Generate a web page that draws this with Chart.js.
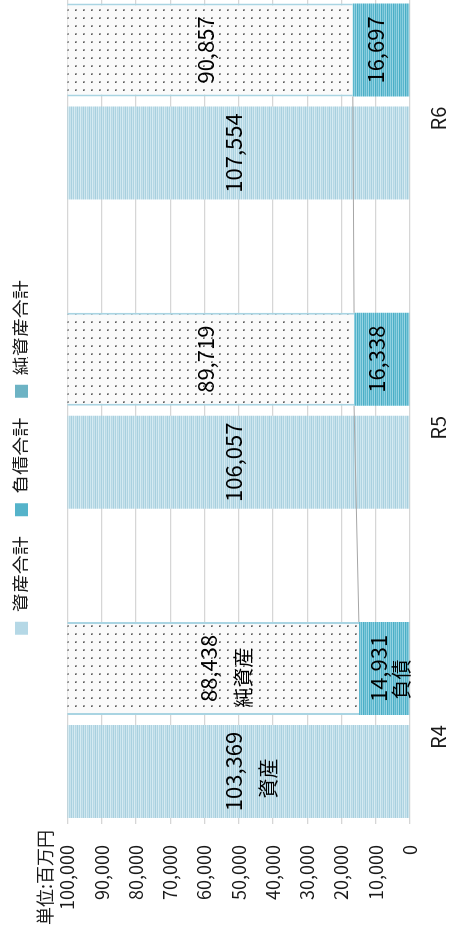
<!DOCTYPE html>
<html lang="ja">
<head>
<meta charset="utf-8">
<title>資産・負債・純資産の推移</title>
<script src="https://cdn.jsdelivr.net/npm/chart.js@4.4.1/dist/chart.umd.min.js"></script>
<style>
  html, body { margin: 0; padding: 0; background: #fff; }
  body { width: 449px; height: 934px; overflow: hidden; position: relative; }
  /* グラフは横長で描いて、左に90度回転させる */
  #wrap {
    position: absolute; left: 0; top: 0;
    width: 944px; height: 449px;
    transform-origin: 0 0;
    transform: translate(0px, 934px) rotate(-90deg);
  }
</style>
</head>
<body>
<div id="wrap"><canvas id="bs-chart" width="944" height="449"></canvas></div>
<script>
// --- データ（単位：百万円） ---
const YEARS = ['R4', 'R5', 'R6'];
const ASSETS = [103369, 106057, 107554];
const LIABILITIES = [14931, 16338, 16697];
const NET_ASSETS = [88438, 89719, 90857];
const SERIES_NAMES = ['資産合計', '負債合計', '純資産合計'];
const NOTE_LABELS = ['資産', '負債', '純資産']; // R4 の棒にだけ付ける説明
const VALUE_MAX = 100000;
const VALUE_STEP = 10000;

const FONT = '"Noto Sans CJK JP", "Noto Sans", sans-serif';
const TEXT_COLOR = '#1a1a1a';
Chart.defaults.font.family = FONT;
Chart.defaults.color = TEXT_COLOR;

const canvas = document.getElementById('bs-chart');
const mainCtx = canvas.getContext('2d');

// --- 塗りパターン ---
function stripePattern(rows) {
    const tile = document.createElement('canvas');
    tile.width = 4;
    tile.height = rows.length;
    const g = tile.getContext('2d');
    rows.forEach((col, i) => { g.fillStyle = col; g.fillRect(0, i, 4, 1); });
    return mainCtx.createPattern(tile, 'repeat');
}

function dotPattern() {
    const tile = document.createElement('canvas');
    tile.width = 8;
    tile.height = 8;
    const g = tile.getContext('2d');
    g.fillStyle = '#fafafa';
    g.fillRect(0, 0, 8, 8);
    g.fillStyle = '#9c9c9c';
    g.fillRect(3, 3, 2, 2);
    g.fillStyle = '#5a5a5a';
    g.fillRect(3, 3, 1, 1);
    return mainCtx.createPattern(tile, 'repeat');
}

const assetFill = stripePattern(['#cde6ef', '#aed3e1', '#d6ebf2', '#b6d8e5', '#c8e2ec', '#a8d0df']);
const liabFill = stripePattern(['#8dcfe0', '#58b5cc', '#9ad5e3', '#4aaec6', '#7fc8da', '#5bb7cd']);
const netFill = dotPattern();
const LEGEND_COLORS = ['#b5d8e6', '#55b3ca', '#6db3c4'];

// 棒のラベル位置のずれ（px）
const NOTE_OFFSETS = [{ dx: -7, dy: 35 }, { dx: -11, dy: 22 }, { dx: -9, dy: 35 }];

const toPoints = arr => arr.map((v, i) => ({ x: i, y: v }));

// --- 区分線（負債の上端をつなぐ線） ---
const seriesLinePlugin = {
    id: 'seriesLines',
    afterDatasetsDraw(chart) {
        const bars = chart.getDatasetMeta(1).data;
        const ctx = chart.ctx;
        ctx.save();
        ctx.strokeStyle = '#a6a6a6';
        ctx.lineWidth = 1;
        for (let i = 0; i < bars.length - 1; i++) {
            const a = bars[i], b = bars[i + 1];
            ctx.beginPath();
            ctx.moveTo(a.x + a.width / 2, a.y);
            ctx.lineTo(b.x - b.width / 2, b.y);
            ctx.stroke();
        }
        ctx.restore();
    }
};

// --- 数値ラベル ---
const valueLabelPlugin = {
    id: 'valueLabels',
    afterDatasetsDraw(chart) {
        const { ctx, chartArea } = chart;
        ctx.save();
        ctx.fillStyle = '#000';
        ctx.textAlign = 'center';
        ctx.textBaseline = 'middle';
        chart.data.datasets.forEach((ds, di) => {
            chart.getDatasetMeta(di).data.forEach((bar, i) => {
                const top = Math.max(bar.y, chartArea.top);
                const cy = (top + bar.base) / 2 - 5;
                ctx.font = '22px ' + FONT;
                ctx.fillText(ds.data[i].y.toLocaleString('en-US'), bar.x, cy);
                if (i === 0) {
                    const off = NOTE_OFFSETS[di];
                    ctx.font = '20px ' + FONT;
                    ctx.fillText(NOTE_LABELS[di], bar.x + off.dx, cy + off.dy);
                }
            });
        });
        ctx.restore();
    }
};

const barCommon = {
    categoryPercentage: 0.666,
    barPercentage: 0.903,
    clip: 0
};

new Chart(canvas, {
    type: 'bar',
    data: {
        datasets: [
            Object.assign({ label: SERIES_NAMES[0], data: toPoints(ASSETS), stack: 'assets',
                backgroundColor: assetFill, borderWidth: 0 }, barCommon),
            Object.assign({ label: SERIES_NAMES[1], data: toPoints(LIABILITIES), stack: 'balance',
                backgroundColor: liabFill, borderWidth: 0 }, barCommon),
            Object.assign({ label: SERIES_NAMES[2], data: toPoints(NET_ASSETS), stack: 'balance',
                backgroundColor: netFill, borderColor: '#a9d4e2',
                borderWidth: { left: 2, right: 2, top: 0, bottom: 0 } }, barCommon)
        ]
    },
    options: {
        responsive: false,
        animation: false,
        devicePixelRatio: 1,
        layout: { padding: { top: -8, left: 9, right: 0, bottom: 0 } },
        plugins: {
            legend: {
                position: 'top',
                maxHeight: 36,
                labels: {
                    boxWidth: 13,
                    boxHeight: 13,
                    padding: 20,
                    color: TEXT_COLOR,
                    font: { size: 19 },
                    generateLabels(chart) {
                        const items = Chart.defaults.plugins.legend.labels.generateLabels(chart);
                        items.forEach((it, i) => {
                            it.fillStyle = LEGEND_COLORS[i];
                            it.strokeStyle = LEGEND_COLORS[i];
                            it.lineWidth = 0;
                        });
                        return items;
                    }
                }
            },
            title: {
                display: true,
                text: '単位:百万円',
                align: 'start',
                weight: 500,
                color: TEXT_COLOR,
                font: { size: 18, weight: 'normal' },
                padding: { top: 6, bottom: 12 }
            },
            tooltip: { enabled: false }
        },
        scales: {
            x: {
                type: 'linear',
                offset: false,
                min: -0.3234,
                max: 2.3605,
                afterBuildTicks: s => { s.ticks = YEARS.map((_, i) => ({ value: i })); },
                afterFit: s => { s.height = 39; },
                grid: { display: false },
                border: { display: false },
                ticks: {
                    autoSkip: false,
                    maxRotation: 0,
                    padding: 8,
                    labelOffset: -17,
                    color: TEXT_COLOR,
                    font: { size: 20 },
                    callback: v => YEARS[v] ?? ''
                }
            },
            y: {
                stacked: true,
                min: 0,
                max: VALUE_MAX,
                afterFit: s => { s.width = 105; },
                grid: { color: '#d6d6d6', lineWidth: 1.3, tickLength: 4 },
                border: { display: false },
                ticks: {
                    stepSize: VALUE_STEP,
                    padding: 21,
                    color: TEXT_COLOR,
                    font: { size: 18 },
                    callback: v => v.toLocaleString('en-US')
                }
            }
        }
    },
    plugins: [seriesLinePlugin, valueLabelPlugin]
});
</script>
</body>
</html>
